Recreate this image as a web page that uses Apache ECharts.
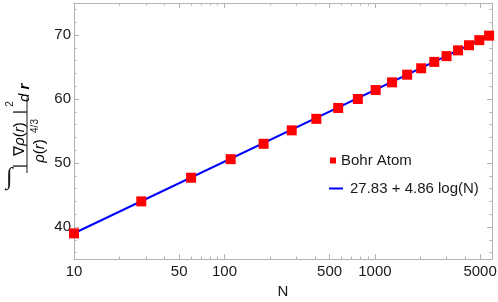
<!DOCTYPE html>
<html><head><meta charset="utf-8">
<script src="https://cdn.jsdelivr.net/npm/echarts@6/dist/echarts.min.js"></script>
<style>html,body{margin:0;padding:0;background:#fff}#c{width:498px;height:302px}</style>
</head><body><div id="c"></div>
<script>
const shellN = [10, 28, 60, 110, 182, 280, 408, 570, 770, 1012, 1300, 1638, 2030, 2480, 2992, 3570, 4218, 4940, 5740];
const bohrValues = [39.0, 44.0, 47.7, 50.6, 53.0, 55.1, 56.9, 58.6, 60.0, 61.4, 62.6, 63.8, 64.8, 65.8, 66.7, 67.6, 68.4, 69.2, 69.9];
const fitN = [10, 5740];
const fitValues = [39.02, 69.89];
const xMajorTicks = [10, 50, 100, 500, 1000, 5000];
const xMinorTicks = [20, 30, 40, 60, 70, 80, 90, 200, 300, 400, 600, 700, 800, 900, 2000, 3000, 4000];
const yMajorTicks = [40, 50, 60, 70];
const yMinorTicks = [36, 38, 42, 44, 46, 48, 52, 54, 56, 58, 62, 64, 66, 68, 72, 74];
const seriesNames = ['Bohr Atom', '27.83 + 4.86 log(N)'];

const FONT = 'Liberation Sans';
const FRAME = '#b3b3b3';
const TXT = '#1a1a1a';

function xAx(pos, ticks, len, showLine, labels) {
  return {
    type: 'log', logBase: 10, min: 10, max: 6000, position: pos,
    axisLine: { show: showLine, onZero: false, lineStyle: { color: FRAME, width: 1 } },
    axisTick: { show: true, inside: true, length: len, customValues: ticks, lineStyle: { color: FRAME } },
    axisLabel: labels ? { show: true, customValues: ticks, fontSize: 15, fontFamily: FONT, color: TXT, margin: 5, formatter: v => String(v) } : { show: false },
    splitLine: { show: false }, minorTick: { show: false },
    name: labels ? 'N' : '', nameLocation: 'middle', nameGap: 25,
    nameTextStyle: { fontSize: 15, fontFamily: FONT, color: TXT }
  };
}
function yAx(pos, ticks, len, showLine, labels) {
  return {
    type: 'value', min: 35, max: 75, position: pos,
    axisLine: { show: showLine, onZero: false, lineStyle: { color: FRAME, width: 1 } },
    axisTick: { show: true, inside: true, length: len, customValues: ticks, lineStyle: { color: FRAME } },
    axisLabel: labels ? { show: true, customValues: ticks, fontSize: 15, fontFamily: FONT, color: TXT, margin: 3 } : { show: false },
    splitLine: { show: false }, minorTick: { show: false }
  };
}

const chart = echarts.init(document.getElementById('c'), null, { renderer: 'canvas' });
const italic = { fontStyle: 'italic', fontSize: 15, fontFamily: FONT, color: TXT };
const normal = { fontSize: 15, fontFamily: FONT, color: TXT };
chart.setOption({
  animation: false,
  backgroundColor: '#fff',
  grid: { left: 74, right: 6, top: 3, bottom: 43, containLabel: false, outerBoundsMode: 'none' },
  xAxis: [
    xAx('bottom', xMajorTicks, 5, true, true),
    xAx('bottom', xMinorTicks, 2.5, false, false),
    xAx('top', xMajorTicks, 5, true, false),
    xAx('top', xMinorTicks, 2.5, false, false)
  ],
  yAxis: [
    yAx('left', yMajorTicks, 5, true, true),
    yAx('left', yMinorTicks, 2.5, false, false),
    yAx('right', yMajorTicks, 5, true, false),
    yAx('right', yMinorTicks, 2.5, false, false)
  ],
  legend: [
    { data: [{ name: seriesNames[0], icon: 'rect' }], left: 330, top: 153, padding: 0, itemWidth: 6, itemHeight: 6,
      selectedMode: false, textStyle: { fontSize: 15, fontFamily: FONT, color: TXT } },
    { data: [{ name: seriesNames[1], icon: 'rect' }], left: 329, top: 181, padding: 0, itemWidth: 14, itemHeight: 2,
      selectedMode: false, textStyle: { fontSize: 15, fontFamily: FONT, color: TXT, padding: [0, 0, 0, 2] } }
  ],
  series: [
    { name: seriesNames[1], type: 'line', xAxisIndex: 0, yAxisIndex: 0,
      data: fitN.map((n, i) => [n, fitValues[i]]), showSymbol: false, symbol: 'none',
      lineStyle: { color: '#0000ff', width: 2 }, itemStyle: { color: '#0000ff' }, z: 2 },
    { name: seriesNames[0], type: 'scatter', xAxisIndex: 0, yAxisIndex: 0,
      data: shellN.map((n, i) => [n, bohrValues[i]]), symbol: 'rect', symbolSize: 10,
      itemStyle: { color: '#ff0000', opacity: 1 }, z: 3 }
  ],
  graphic: [
    { type: 'text', left: 6, top: 166, style: { text: '\u222B', fontSize: 24, fontFamily: 'Liberation Serif', fill: TXT } },
    { type: 'group', x: 27, y: 187, rotation: Math.PI / 2, children: [
      { type: 'text', x: 48, y: -7, style: { text: '{n||  \u2207}{i|\u03C1}{n|(}{i|r}{n|)  |}', rich: { n: normal, i: italic }, align: 'center', verticalAlign: 'middle' } },
      { type: 'text', x: 83, y: -17, style: { text: '2', fontSize: 10, fontFamily: FONT, fill: TXT, align: 'center', verticalAlign: 'middle' } },
      { type: 'line', shape: { x1: 14, y1: 0, x2: 89, y2: 0 }, style: { stroke: TXT, lineWidth: 1 } },
      { type: 'text', x: 36, y: 13, style: { text: '{i|\u03C1}{n|(}{i|r}{n|)}', rich: { n: normal, i: italic }, align: 'center', verticalAlign: 'middle' } },
      { type: 'text', x: 61, y: 8, style: { text: '4/3', fontSize: 10, fontFamily: FONT, fill: TXT, align: 'center', verticalAlign: 'middle' } },
      { type: 'text', x: 85, y: -2, style: { text: '{i|d }{b|r}', rich: { i: italic, b: { fontStyle: 'italic', fontWeight: 'bold', fontSize: 15, fontFamily: FONT, color: TXT } }, align: 'left', verticalAlign: 'middle' } }
    ] }
  ]
});
</script>
</body></html>
